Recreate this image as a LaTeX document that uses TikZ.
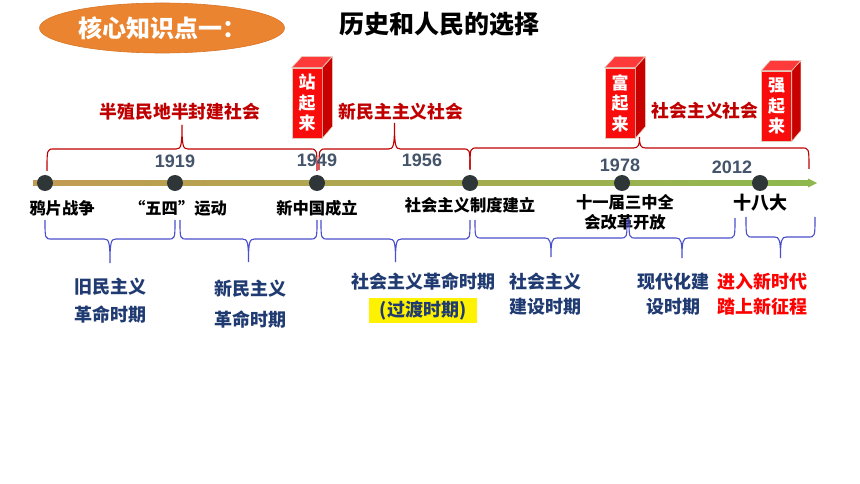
\documentclass[tikz,border=0pt]{standalone}
\usepackage{fontspec}
\setmainfont{Noto Sans CJK SC}
\newfontfamily\numfont{Liberation Sans}
\usetikzlibrary{shapes.geometric}
\definecolor{orangeA}{HTML}{EA8430}
\definecolor{orangeB}{HTML}{D97527}
\definecolor{darkred}{HTML}{C00000}
\definecolor{boxfront}{HTML}{F80C0C}
\definecolor{boxside}{HTML}{C80000}
\definecolor{boxtop}{HTML}{FF3A3A}
\definecolor{boxedge}{HTML}{E2C9B8}
\definecolor{yeargray}{HTML}{44546A}
\definecolor{dotgray}{HTML}{2F3638}
\definecolor{navy}{HTML}{203A72}
\definecolor{bracebl}{HTML}{4A4FCC}
\definecolor{lineA}{HTML}{C39B52}
\definecolor{lineB}{HTML}{B0A548}
\definecolor{lineC}{HTML}{8EB84E}
\definecolor{brightred}{HTML}{FF0000}
\newcommand\mybraceup[5]{% x1, x2, yline, yend, ytip
  \draw[redbrace] (#1,#4) .. controls (#1,#3) .. (#1+7,#3)
    -- ({(#1+#2)/2-6},#3) .. controls ({(#1+#2)/2-1},#3) and ({(#1+#2)/2},#3-3) .. ({(#1+#2)/2},#5)
    .. controls ({(#1+#2)/2},#3-3) and ({(#1+#2)/2+1},#3) .. ({(#1+#2)/2+6},#3)
    -- (#2-7,#3) .. controls (#2,#3) .. (#2,#4);}
\newcommand\mybracedown[5]{% x1, x2, yline, yend, ytip
  \draw[bluebrace] (#1,#4) .. controls (#1,#3) .. (#1+7,#3)
    -- ({(#1+#2)/2-6},#3) .. controls ({(#1+#2)/2-1},#3) and ({(#1+#2)/2},#3+3) .. ({(#1+#2)/2},#5)
    .. controls ({(#1+#2)/2},#3+3) and ({(#1+#2)/2+1},#3) .. ({(#1+#2)/2+6},#3)
    -- (#2-7,#3) .. controls (#2,#3) .. (#2,#4);}
\tikzset{
  oval/.style={ellipse, fill=orangeA, draw=orangeB, line width=0.6pt, minimum width=245pt, minimum height=50pt, inner sep=0pt},
  ovaltext/.style={text=white, font=\bfseries\fontsize{24}{26}\selectfont, inner sep=0pt},
  titletext/.style={text=black, font=\bfseries\fontsize{25}{27}\selectfont, inner sep=0pt},
  redfront/.style={fill=boxfront, draw=boxedge, line width=0.6pt, minimum width=30pt, minimum height=70pt, inner sep=0pt, text=white, align=center, font=\bfseries\fontsize{17}{20.5}\selectfont},
  redside/.style={fill=boxside, draw=boxedge, line width=0.6pt},
  redtop/.style={fill=boxtop, draw=boxedge, line width=0.6pt},
  redlab/.style={text=darkred, font=\bfseries\fontsize{17.8}{20}\selectfont, inner sep=0pt},
  redbrace/.style={draw=darkred, line width=1.1pt},
  bluebrace/.style={draw=bracebl, line width=1.1pt},
  year/.style={text=yeargray, font=\numfont\bfseries\fontsize{18}{20}\selectfont, inner sep=0pt},
  event/.style={text=black, font=\bfseries\fontsize{16.3}{20}\selectfont, inner sep=0pt, align=center},
  period/.style={text=navy, font=\bfseries\fontsize{18}{25}\selectfont, inner sep=0pt, align=center},
  newera/.style={text=brightred, font=\bfseries\fontsize{18}{25}\selectfont, inner sep=0pt, align=center},
  dot/.style={circle, fill=dotgray, minimum size=16pt, inner sep=0pt},
}
\begin{document}
\begin{tikzpicture}[x=1pt,y=-1pt]
\fill[white] (0,0) rectangle (860,484);
\useasboundingbox (0,0) rectangle (860,484);

% header
\node[oval] (hx) at (162,28) {};
\node[ovaltext] (hxt) at (162,28) {核心知识点一：};
\node[titletext] (tt) at (439,24) {历史和人民的选择};

% red 3D boxes
\node[redfront] (b1) at (307,103) {站\\起\\来};
\draw[redtop] (b1.north west) -- ++(10,-11) -- ++(30,0) -- (b1.north east) -- cycle;
\draw[redside] (b1.north east) -- ++(10,-11) -- ++(0,70) -- (b1.south east) -- cycle;
\node[redfront] (b2) at (620,103) {富\\起\\来};
\draw[redtop] (b2.north west) -- ++(10,-11) -- ++(30,0) -- (b2.north east) -- cycle;
\draw[redside] (b2.north east) -- ++(10,-11) -- ++(0,70) -- (b2.south east) -- cycle;
\node[redfront] (b3) at (776.5,106) {强\\起\\来};
\draw[redtop] (b3.north west) -- ++(9,-10) -- ++(30.5,0) -- (b3.north east) -- cycle;
\draw[redside] (b3.north east) -- ++(9,-10) -- ++(0,70) -- (b3.south east) -- cycle;

% society labels
\node[redlab] (s1) at (180,112) {半殖民地半封建社会};
\node[redlab] (s2) at (401,112) {新民主主义社会};
\node[redlab] (s3) at (705,111) {社会主义社会};

% red braces
\mybraceup{47}{317}{149}{171}{125}
\mybraceup{319}{470}{149}{170}{123}
\mybraceup{470}{809}{148}{169}{137}

% years
\node[year] (y1) at (175,161) {1919};
\node[year] (y2) at (317,160) {1949};
\node[year] (y3) at (422,160) {1956};
\node[year] (y4) at (620,165) {1978};
\node[year] (y5) at (732,167) {2012};

% timeline
\coordinate (ts) at (33,181);
\coordinate (te) at (808,185.2);
\shade[left color=lineA, middle color=lineB, right color=lineC] (ts) rectangle (te);
\coordinate (tip) at (817,183);
\fill[lineC] (808,178.5) -- (tip) -- (808,187.5) -- cycle;

\node[dot] (d1) at (45,183) {};
\node[dot] (d2) at (175,183) {};
\node[dot] (d3) at (317,183) {};
\node[dot] (d4) at (470,183) {};
\node[dot] (d5) at (622,183) {};
\node[dot] (d6) at (760,183) {};

% events
\node[event] (e1) at (62,208) {鸦片战争};
\node[event] (e2) at (178,208) {“五四”运动};
\node[event] (e3) at (317,208) {新中国成立};
\node[event] (e4) at (470,205) {社会主义制度建立};
\node[event] (e5) at (625,212) {十一届三中全\\会改革开放};
\node[event, font=\bfseries\fontsize{18}{20}\selectfont] (e6) at (760,203) {十八大};

% blue braces
\mybracedown{45}{175}{239}{220}{263}
\mybracedown{180}{317}{239}{220}{262}
\mybracedown{321}{470}{239}{220}{262}
\mybracedown{475}{627}{238}{220}{257}
\mybracedown{629}{735}{238}{218}{258}
\mybracedown{746}{815}{237}{217}{258}

% periods
\node[period, font=\bfseries\fontsize{18}{28}\selectfont] (p1) at (110,301) {旧民主义\\革命时期};
\node[period, font=\bfseries\fontsize{18}{31}\selectfont] (p2) at (250,304.5) {新民主义\\革命时期};
\node[period] (p3) at (423.5,282) {社会主义革命时期};
\node[fill=yellow, minimum width=108pt, minimum height=25pt, inner sep=0pt] (gd) at (423,310.5) {};
\node[period] (p3b) at (423,310.5) {(过渡时期)};
\node[period] (p4) at (545,294.5) {社会主义\\建设时期};
\node[period] (p5) at (673,294.5) {现代化建\\设时期};
\node[newera] (p6) at (762,294.5) {进入新时代\\踏上新征程};
\end{tikzpicture}
\end{document}
